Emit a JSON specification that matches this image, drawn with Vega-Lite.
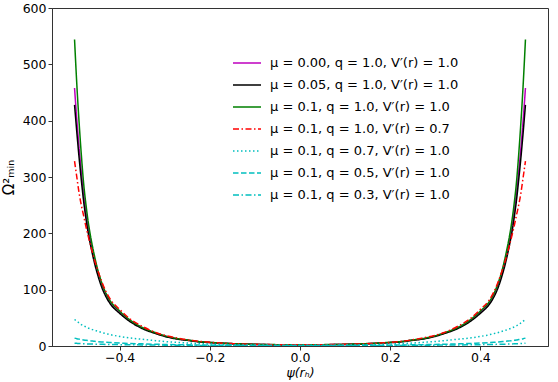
{
  "$schema": "https://vega.github.io/schema/vega-lite/v6.json",
  "width": 496,
  "height": 338,
  "autosize": {"type": "none"},
  "padding": {"left": 52, "top": 8, "right": 10, "bottom": 36},
  "background": "white",
  "config": {
    "view": {"stroke": "#333", "strokeWidth": 1},
    "font": "DejaVu Sans",
    "axis": {
      "labelFont": "DejaVu Sans", "labelFontSize": 12.5, "labelColor": "black",
      "titleFont": "DejaVu Sans", "titleFontSize": 13, "titleColor": "black", "titleFontWeight": "normal",
      "tickColor": "#333", "domainColor": "#333", "tickSize": 4, "grid": false, "labelPadding": 1
    }
  },
  "datasets": {
    "labels": [
      {"k": "a", "label": "μ = 0.00, q = 1.0, V′(r) = 1.0"},
      {"k": "b", "label": "μ = 0.05, q = 1.0, V′(r) = 1.0"},
      {"k": "c", "label": "μ = 0.1, q = 1.0, V′(r) = 1.0"},
      {"k": "d", "label": "μ = 0.1, q = 1.0, V′(r) = 0.7"},
      {"k": "e", "label": "μ = 0.1, q = 0.7, V′(r) = 1.0"},
      {"k": "f", "label": "μ = 0.1, q = 0.5, V′(r) = 1.0"},
      {"k": "g", "label": "μ = 0.1, q = 0.3, V′(r) = 1.0"}
    ]
  },
  "data": {"values": [
    {"psi": -0.5, "a": 458, "b": 428, "c": 544, "d": 328, "e": 47, "f": 14, "g": 5},
    {"psi": -0.495, "a": 402, "b": 380, "c": 465, "d": 300, "e": 44, "f": 13, "g": 4.7},
    {"psi": -0.49, "a": 353, "b": 335, "c": 398, "d": 272, "e": 41, "f": 12.2, "g": 4.4},
    {"psi": -0.485, "a": 310, "b": 295, "c": 340, "d": 250, "e": 38, "f": 11.5, "g": 4.2},
    {"psi": -0.48, "a": 271, "b": 258, "c": 290, "d": 232, "e": 36, "f": 10.8, "g": 4},
    {"psi": -0.475, "a": 239, "b": 228, "c": 253, "d": 213, "e": 34, "f": 10.2, "g": 3.85},
    {"psi": -0.47, "a": 212, "b": 202, "c": 222, "d": 196, "e": 32, "f": 9.6, "g": 3.7},
    {"psi": -0.465, "a": 190, "b": 181, "c": 197, "d": 180, "e": 30.5, "f": 9.1, "g": 3.55},
    {"psi": -0.46, "a": 170, "b": 162, "c": 176, "d": 165, "e": 29, "f": 8.7, "g": 3.4},
    {"psi": -0.455, "a": 152, "b": 145, "c": 157, "d": 151, "e": 27.7, "f": 8.3, "g": 3.3},
    {"psi": -0.45, "a": 136, "b": 130, "c": 140, "d": 138, "e": 26.5, "f": 7.9, "g": 3.2},
    {"psi": -0.44, "a": 110, "b": 105, "c": 113, "d": 115, "e": 24, "f": 7.2, "g": 3},
    {"psi": -0.43, "a": 91, "b": 87, "c": 93, "d": 96, "e": 22, "f": 6.6, "g": 2.8},
    {"psi": -0.42, "a": 77, "b": 74, "c": 79, "d": 82, "e": 20, "f": 6.1, "g": 2.7},
    {"psi": -0.4, "a": 60.5, "b": 58, "c": 62, "d": 65, "e": 17, "f": 5.2, "g": 2.4},
    {"psi": -0.38, "a": 47, "b": 45, "c": 48, "d": 50, "e": 14.5, "f": 4.6, "g": 2.2},
    {"psi": -0.35, "a": 32.5, "b": 31, "c": 33, "d": 35, "e": 12, "f": 3.8, "g": 1.9},
    {"psi": -0.32, "a": 23, "b": 22, "c": 23.5, "d": 24, "e": 9.5, "f": 3.1, "g": 1.7},
    {"psi": -0.3, "a": 18, "b": 17, "c": 18.3, "d": 19, "e": 8, "f": 2.8, "g": 1.5},
    {"psi": -0.27, "a": 12.6, "b": 12, "c": 13, "d": 14, "e": 6.3, "f": 2.3, "g": 1.3},
    {"psi": -0.25, "a": 10.5, "b": 10, "c": 10.8, "d": 11, "e": 5.3, "f": 2.1, "g": 1.2},
    {"psi": -0.22, "a": 7.4, "b": 7, "c": 7.6, "d": 8, "e": 4.2, "f": 1.7, "g": 1.05},
    {"psi": -0.2, "a": 6.3, "b": 6, "c": 6.5, "d": 6.5, "e": 3.5, "f": 1.5, "g": 0.95},
    {"psi": -0.15, "a": 4.2, "b": 4, "c": 4.3, "d": 4.2, "e": 2.4, "f": 1.2, "g": 0.8},
    {"psi": -0.1, "a": 2.9, "b": 2.8, "c": 3, "d": 3, "e": 1.7, "f": 1.0, "g": 0.7},
    {"psi": -0.05, "a": 2.3, "b": 2.2, "c": 2.4, "d": 2.3, "e": 1.3, "f": 0.85, "g": 0.65},
    {"psi": 0, "a": 2.1, "b": 2, "c": 2.2, "d": 2, "e": 1.2, "f": 0.8, "g": 0.6},
    {"psi": 0.05, "a": 2.3, "b": 2.2, "c": 2.4, "d": 2.3, "e": 1.3, "f": 0.85, "g": 0.65},
    {"psi": 0.1, "a": 2.9, "b": 2.8, "c": 3, "d": 3, "e": 1.7, "f": 1.0, "g": 0.7},
    {"psi": 0.15, "a": 4.2, "b": 4, "c": 4.3, "d": 4.2, "e": 2.4, "f": 1.2, "g": 0.8},
    {"psi": 0.2, "a": 6.3, "b": 6, "c": 6.5, "d": 6.5, "e": 3.5, "f": 1.5, "g": 0.95},
    {"psi": 0.22, "a": 7.4, "b": 7, "c": 7.6, "d": 8, "e": 4.2, "f": 1.7, "g": 1.05},
    {"psi": 0.25, "a": 10.5, "b": 10, "c": 10.8, "d": 11, "e": 5.3, "f": 2.1, "g": 1.2},
    {"psi": 0.27, "a": 12.6, "b": 12, "c": 13, "d": 14, "e": 6.3, "f": 2.3, "g": 1.3},
    {"psi": 0.3, "a": 18, "b": 17, "c": 18.3, "d": 19, "e": 8, "f": 2.8, "g": 1.5},
    {"psi": 0.32, "a": 23, "b": 22, "c": 23.5, "d": 24, "e": 9.5, "f": 3.1, "g": 1.7},
    {"psi": 0.35, "a": 32.5, "b": 31, "c": 33, "d": 35, "e": 12, "f": 3.8, "g": 1.9},
    {"psi": 0.38, "a": 47, "b": 45, "c": 48, "d": 50, "e": 14.5, "f": 4.6, "g": 2.2},
    {"psi": 0.4, "a": 60.5, "b": 58, "c": 62, "d": 65, "e": 17, "f": 5.2, "g": 2.4},
    {"psi": 0.42, "a": 77, "b": 74, "c": 79, "d": 82, "e": 20, "f": 6.1, "g": 2.7},
    {"psi": 0.43, "a": 91, "b": 87, "c": 93, "d": 96, "e": 22, "f": 6.6, "g": 2.8},
    {"psi": 0.44, "a": 110, "b": 105, "c": 113, "d": 115, "e": 24, "f": 7.2, "g": 3},
    {"psi": 0.45, "a": 136, "b": 130, "c": 140, "d": 138, "e": 26.5, "f": 7.9, "g": 3.2},
    {"psi": 0.455, "a": 152, "b": 145, "c": 157, "d": 151, "e": 27.7, "f": 8.3, "g": 3.3},
    {"psi": 0.46, "a": 170, "b": 162, "c": 176, "d": 165, "e": 29, "f": 8.7, "g": 3.4},
    {"psi": 0.465, "a": 190, "b": 181, "c": 197, "d": 180, "e": 30.5, "f": 9.1, "g": 3.55},
    {"psi": 0.47, "a": 212, "b": 202, "c": 222, "d": 196, "e": 32, "f": 9.6, "g": 3.7},
    {"psi": 0.475, "a": 239, "b": 228, "c": 253, "d": 213, "e": 34, "f": 10.2, "g": 3.85},
    {"psi": 0.48, "a": 271, "b": 258, "c": 290, "d": 232, "e": 36, "f": 10.8, "g": 4},
    {"psi": 0.485, "a": 310, "b": 295, "c": 340, "d": 250, "e": 38, "f": 11.5, "g": 4.2},
    {"psi": 0.49, "a": 353, "b": 335, "c": 398, "d": 272, "e": 41, "f": 12.2, "g": 4.4},
    {"psi": 0.495, "a": 402, "b": 380, "c": 465, "d": 300, "e": 44, "f": 13, "g": 4.7},
    {"psi": 0.5, "a": 458, "b": 428, "c": 544, "d": 328, "e": 47, "f": 14, "g": 5}
  ]},
  "transform": [
    {"fold": ["a", "b", "c", "d", "e", "f", "g"], "as": ["key", "val"]},
    {"lookup": "key", "from": {"data": {"name": "labels"}, "key": "k", "fields": ["label"]}}
  ],
  "mark": {"type": "line", "strokeWidth": 1.5, "interpolate": "monotone", "clip": true},
  "encoding": {
    "x": {"field": "psi", "type": "quantitative",
      "scale": {"domain": [-0.55, 0.55], "nice": false, "zero": false},
      "axis": {"values": [-0.4, -0.2, 0, 0.2, 0.4], "format": ".1f", "title": "ψ(rₕ)", "titleBaseline": "alphabetic", "titleY": 30, "titleFontStyle": "italic", "titleFontSize": 12.5}},
    "y": {"field": "val", "type": "quantitative",
      "scale": {"domain": [0, 600], "nice": false},
      "axis": {"values": [0, 100, 200, 300, 400, 500, 600], "title": "Ω²ₘᵢₙ", "titlePadding": 6, "titleFontSize": 15, "labelPadding": 2}},
    "detail": {"field": "key"},
    "color": {"field": "label", "type": "nominal",
      "scale": {
        "domain": ["μ = 0.00, q = 1.0, V′(r) = 1.0", "μ = 0.05, q = 1.0, V′(r) = 1.0", "μ = 0.1, q = 1.0, V′(r) = 1.0", "μ = 0.1, q = 1.0, V′(r) = 0.7", "μ = 0.1, q = 0.7, V′(r) = 1.0", "μ = 0.1, q = 0.5, V′(r) = 1.0", "μ = 0.1, q = 0.3, V′(r) = 1.0"],
        "range": ["#bf00bf", "#000000", "#008000", "#ff0000", "#00bfbf", "#00bfbf", "#00bfbf"]},
      "legend": {"title": null, "orient": "none", "legendX": 180, "legendY": 40,
        "symbolType": "stroke", "symbolSize": 784, "symbolStrokeWidth": 1.5,
        "labelFont": "DejaVu Sans", "labelFontSize": 13, "labelColor": "black", "labelLimit": 300,
        "rowPadding": -4.5, "labelOffset": 8}},
    "strokeDash": {"field": "label", "type": "nominal",
      "scale": {
        "domain": ["μ = 0.00, q = 1.0, V′(r) = 1.0", "μ = 0.05, q = 1.0, V′(r) = 1.0", "μ = 0.1, q = 1.0, V′(r) = 1.0", "μ = 0.1, q = 1.0, V′(r) = 0.7", "μ = 0.1, q = 0.7, V′(r) = 1.0", "μ = 0.1, q = 0.5, V′(r) = 1.0", "μ = 0.1, q = 0.3, V′(r) = 1.0"],
        "range": [[1, 0], [1, 0], [1, 0], [6, 2.5, 1.5, 2.5], [1.5, 2.5], [5.5, 2.5], [6, 2.5, 1.5, 2.5]]},
      "legend": {"title": null, "orient": "none", "legendX": 180, "legendY": 40,
        "symbolType": "stroke", "symbolSize": 784, "symbolStrokeWidth": 1.5,
        "labelFont": "DejaVu Sans", "labelFontSize": 13, "labelColor": "black", "labelLimit": 300,
        "rowPadding": -4.5, "labelOffset": 8}}
  }
}
